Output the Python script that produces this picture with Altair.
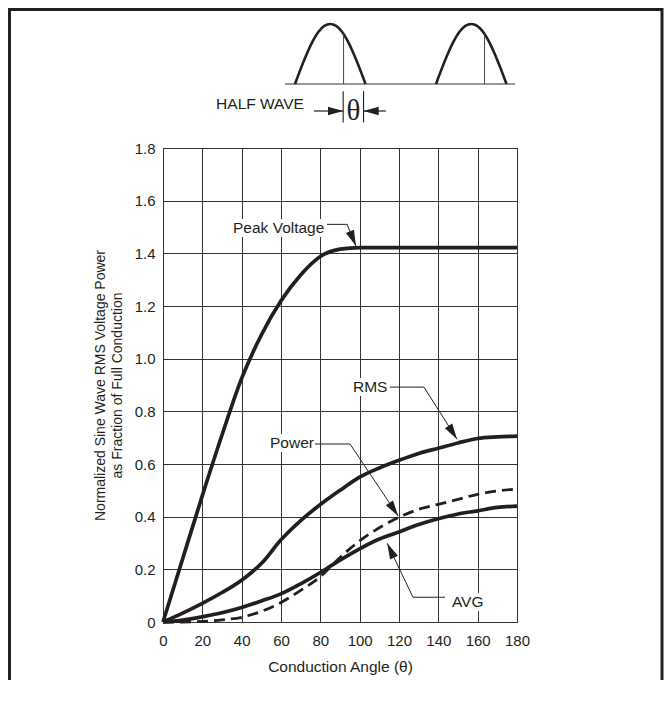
import math
import altair as alt
import pandas as pd

# ---------------- data ----------------
theta = [0, 10, 20, 30, 40, 45, 50, 60, 70, 80, 90, 100, 110, 120, 130, 140, 150, 160, 170, 180]
peak = [0, 0.24, 0.48, 0.71, 0.925, 1.012, 1.09, 1.22, 1.318, 1.388, 1.416, 1.422,
        1.422, 1.422, 1.422, 1.422, 1.422, 1.422, 1.422, 1.422]
rms = [0, 0.034, 0.071, 0.112, 0.159, 0.188, 0.222, 0.312, 0.385, 0.446, 0.50, 0.55,
       0.585, 0.614, 0.64, 0.66, 0.68, 0.697, 0.703, 0.706]
power = [0, 0.0, 0.002, 0.008, 0.018, 0.028, 0.04, 0.074, 0.12, 0.172, 0.245, 0.308,
         0.358, 0.398, 0.428, 0.447, 0.466, 0.485, 0.498, 0.505]
avg = [0, 0.007, 0.02, 0.035, 0.055, 0.067, 0.08, 0.107, 0.145, 0.188, 0.235, 0.278,
       0.315, 0.342, 0.37, 0.392, 0.41, 0.422, 0.435, 0.44]

x_ticks = list(range(0, 181, 20))
y_ticks = [round(i * 0.2, 1) for i in range(10)]

labels = ["Peak Voltage", "RMS", "Power", "AVG"]
label_theta = [35.6, 96.6, 54.4, 146.9]
label_value = [1.496, 0.892, 0.679, 0.076]
# white boxes behind labels (theta1, theta2, v1, v2)
label_box = [(34.6, 83.9, 1.462, 1.530), (95.6, 115.4, 0.858, 0.927),
             (53.4, 77.8, 0.646, 0.714), (145.4, 164.2, 0.042, 0.110)]
# leader polylines (theta, value), last point = arrow tip
leaders = [
    [(83.4, 1.510), (93.6, 1.510), (98.1, 1.428)],
    [(115.4, 0.892), (132.7, 0.892), (149.5, 0.694)],
    [(77.3, 0.676), (95.1, 0.676), (119.6, 0.4025)],
    [(143.4, 0.094), (127.1, 0.094), (114.0, 0.299)],
]

# header (half-wave sketch): phase in degrees, level 0..1
hump_phase = list(range(0, 181, 15))
hump_level = [0, 0.26, 0.50, 0.71, 0.87, 0.97, 1.0, 0.97, 0.87, 0.71, 0.50, 0.26, 0]
hump_start = [0, 360]
fire_phase = 124
fire_level = 0.83

W, H = 354, 474
INK = "#231f20"
FONT = "Liberation Sans"

# ---------------- main plot ----------------
xs = alt.Scale(domain=[0, 180], nice=False, zero=False)
ys = alt.Scale(domain=[0, 1.8], nice=False, zero=False)

x_axis = alt.Axis(values=x_ticks, title="Conduction Angle (θ)", grid=True,
                  ticks=False, tickSize=0, domain=False, labelPadding=11,
                  titlePadding=11, labelFontSize=15, titleFontSize=15.5,
                  labelFlush=False, labelOverlap=False, tickCount=30)
y_axis = alt.Axis(values=y_ticks,
                  title=["Normalized Sine Wave RMS Voltage Power",
                         "as Fraction of Full Conduction"],
                  grid=True, ticks=False, tickSize=0, domain=False,
                  labelPadding=8, titlePadding=10, labelFontSize=15,
                  titleFontSize=14, titleLineHeight=17, labelFlush=False,
                  labelOverlap=False, tickCount=30,
                  labelExpr="datum.value == 0 ? '0' : format(datum.value, '.1f')")

X = lambda f: alt.X(f, scale=xs, axis=x_axis)
Y = lambda f: alt.Y(f, scale=ys, axis=y_axis)

curves = pd.DataFrame(
    [{"theta": t, "value": v, "series": s}
     for s, arr in [("Peak Voltage", peak), ("RMS", rms), ("AVG", avg)]
     for t, v in zip(theta, arr)]
)
pw = pd.DataFrame({"theta": theta, "value": power})

solid = alt.Chart(curves).mark_line(
    color=INK, strokeWidth=3.7, interpolate="monotone"
).encode(x=X("theta:Q"), y=Y("value:Q"), detail="series:N")
dashed = alt.Chart(pw).mark_line(
    color=INK, strokeWidth=2.8, strokeDash=[11, 6], interpolate="monotone"
).encode(x=X("theta:Q"), y=Y("value:Q"))

box_df = pd.DataFrame([{"t1": b[0], "t2": b[1], "v1": b[2], "v2": b[3]} for b in label_box])
boxes = alt.Chart(box_df).mark_rect(fill="white", strokeWidth=0).encode(
    x=X("t1:Q"), x2="t2:Q", y=Y("v1:Q"), y2="v2:Q",
)

lab_df = pd.DataFrame({"label": labels, "theta": label_theta, "value": label_value})
texts = alt.Chart(lab_df).mark_text(
    align="left", baseline="middle", font=FONT, fontSize=15.5, color=INK
).encode(x=X("theta:Q"), y=Y("value:Q"), text="label:N")

lead_rows, tip_rows = [], []
for i, pts in enumerate(leaders):
    for j, (t, v) in enumerate(pts):
        lead_rows.append({"id": i, "ord": j, "theta": t, "value": v})
    (t1, v1), (t2, v2) = pts[-2], pts[-1]
    dx = (t2 - t1) * W / 180
    dy = -(v2 - v1) * H / 1.8
    ang = math.degrees(math.atan2(dx, -dy)) % 360
    tip_rows.append({"theta": t2, "value": v2, "ang": ang})
lead_df = pd.DataFrame(lead_rows)
tip_df = pd.DataFrame(tip_rows)

ARROW = "M0,0L0.55,2L-0.55,2Z"
lead_lines = alt.Chart(lead_df).mark_line(color=INK, strokeWidth=1).encode(
    x=X("theta:Q"), y=Y("value:Q"), detail="id:N", order="ord:Q",
)
tips = alt.Chart(tip_df).mark_point(
    shape=ARROW, filled=True, color=INK, size=250, opacity=1, strokeWidth=0
).encode(x=X("theta:Q"), y=Y("value:Q"), angle=alt.Angle("ang:Q", scale=None))

main = alt.layer(solid, dashed, boxes, lead_lines, tips, texts)

# ---------------- header sketch ----------------
hx = alt.Scale(domain=[0, 360], range=[132, 273], nice=False, zero=False)
hy = alt.Scale(domain=[0, 1], range=[-64, -124], nice=False, zero=False)
HX = lambda f: alt.X(f, scale=hx, axis=None)
HY = lambda f: alt.Y(f, scale=hy, axis=None)

hump_df = pd.DataFrame(
    [{"hump": k, "phase": s + p, "h": lv}
     for k, s in enumerate(hump_start) for p, lv in zip(hump_phase, hump_level)]
)
humps = alt.Chart(hump_df).mark_line(color=INK, strokeWidth=2.6, interpolate="monotone").encode(
    x=HX("phase:Q"), y=HY("h:Q"), detail="hump:N",
)
base_df = pd.DataFrame({"p1": [-25.5], "p2": [562.0], "h": [0.0]})
baseline = alt.Chart(base_df).mark_rule(color="#777777", strokeWidth=1.6).encode(
    x=HX("p1:Q"), x2="p2:Q", y=HY("h:Q")
)
fire_df = pd.DataFrame({"phase": [s + fire_phase for s in hump_start],
                        "h0": [0.0, 0.0], "h1": [fire_level, fire_level]})
fires = alt.Chart(fire_df).mark_rule(color="#444444", strokeWidth=1).encode(
    x=HX("phase:Q"), y=HY("h0:Q"), y2="h1:Q"
)
bar_df = pd.DataFrame({"phase": [123, 175], "h0": [-0.12, -0.12], "h1": [-0.64, -0.64]})
bars = alt.Chart(bar_df).mark_rule(color=INK, strokeWidth=1.1).encode(
    x=HX("phase:Q"), y=HY("h0:Q"), y2="h1:Q"
)
shaft_df = pd.DataFrame({"p1": [48.5, 175], "p2": [123, 232], "h": [-0.45, -0.45]})
shafts = alt.Chart(shaft_df).mark_rule(color=INK, strokeWidth=1.2).encode(
    x=HX("p1:Q"), x2="p2:Q", y=HY("h:Q")
)
htip_df = pd.DataFrame({"phase": [123, 175], "h": [-0.45, -0.45], "ang": [90, 270]})
htips = alt.Chart(htip_df).mark_point(
    shape=ARROW, filled=True, color=INK, size=230, opacity=1, strokeWidth=0
).encode(x=HX("phase:Q"), y=HY("h:Q"), angle=alt.Angle("ang:Q", scale=None))
hw_df = pd.DataFrame({"phase": [22.9], "h": [-0.34], "t": ["HALF WAVE"]})
hw_text = alt.Chart(hw_df).mark_text(
    align="right", baseline="middle", font=FONT, fontSize=15.5, color=INK
).encode(x=HX("phase:Q"), y=HY("h:Q"), text="t:N")
th_df = pd.DataFrame({"phase": [149], "h": [-0.45], "t": ["θ"]})
th_text = alt.Chart(th_df).mark_text(
    align="center", baseline="middle", font="Liberation Serif", fontSize=29, color=INK
).encode(x=HX("phase:Q"), y=HY("h:Q"), text="t:N")

header = alt.layer(baseline, humps, fires, bars, shafts, htips, hw_text, th_text)

frame = alt.Chart(alt.Data(values=[{}])).mark_rect(
    fillOpacity=0, stroke=INK, strokeWidth=3
).encode(x=alt.value(-153.5), x2=alt.value(499), y=alt.value(-138.5), y2=alt.value(580))

chart = alt.layer(main, header, frame).resolve_scale(
    x="independent", y="independent"
).properties(
    width=W, height=H,
    autosize=alt.AutoSizeParams(type="none"),
    padding={"left": 155, "top": 140, "right": 147, "bottom": 58},
    background="white",
).configure_view(
    stroke=INK, strokeWidth=1
).configure_axis(
    labelFont=FONT, titleFont=FONT, labelColor=INK, titleColor=INK,
    gridColor="#333333", gridWidth=1, gridOpacity=1, titleFontWeight="normal",
)

chart.save("out.html", embed_options={"renderer": "svg", "actions": False})
